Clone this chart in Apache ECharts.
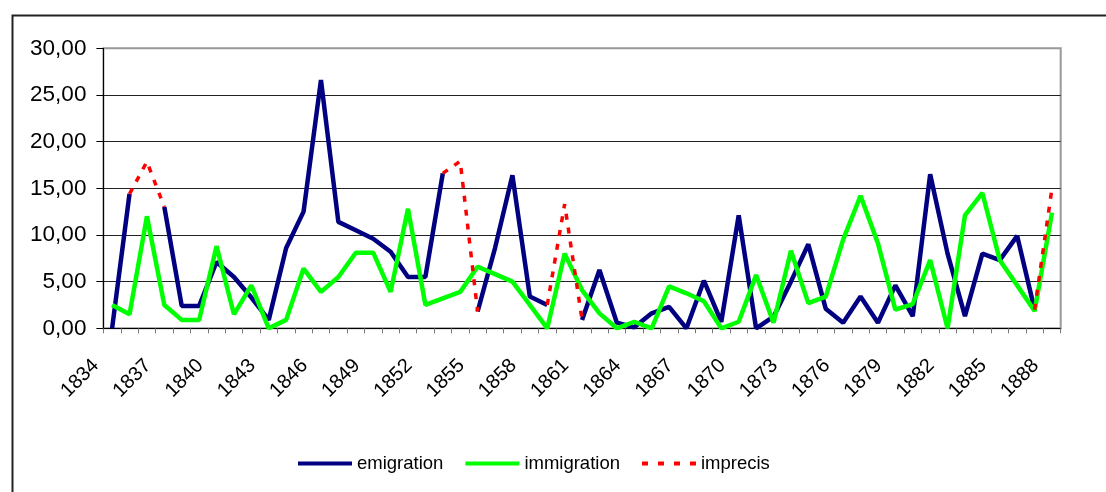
<!DOCTYPE html>
<html>
<head>
<meta charset="utf-8">
<script src="https://cdn.jsdelivr.net/npm/echarts@6/dist/echarts.min.js"></script>
<style>html,body{margin:0;padding:0;background:#fff;}#c{width:1106px;height:492px;}</style>
</head>
<body>
<div id="c"></div>
<script>
var years = [];
for (var y = 1834; y <= 1888; y++) years.push(String(y));

var emigration = [0, 14.4, null, 13.0, 2.4, 2.4, 7.1, 5.5, 3.3, 0.9,
  8.6, 12.5, 26.6, 11.4, 10.5, 9.6, 8.2, 5.5, 5.5, 16.6,
  null, 1.8, 8.6, 16.4, 3.4, 2.5, null, 0.9, 6.25, 0.6,
  0.1, 1.6, 2.3, 0, 5.1, 0.7, 12.1, 0, 1.25, 5.0,
  9.0, 2.1, 0.6, 3.4, 0.6, 4.6, 1.3, 16.5, 8.0, 1.3,
  8.0, 7.3, 9.9, 2.0, null];

var immigration = [2.5, 1.5, 12.0, 2.5, 0.9, 0.9, 8.8, 1.5, 4.6, 0,
  0.9, 6.4, 3.9, 5.5, 8.1, 8.1, 3.9, 12.8, 2.5, 3.2,
  3.9, 6.6, 5.8, 5.0, 2.5, 0, 8.0, 4.1, 1.6, 0,
  0.7, 0, 4.5, 3.75, 2.9, 0, 0.7, 5.7, 0.6, 8.3,
  2.7, 3.4, 9.5, 14.2, 9.1, 2.0, 2.6, 7.3, 0, 12.1,
  14.5, 7.3, 4.6, 1.85, 12.4];

var imprecis = [null, 14.4, 17.85, 13.0, null, null, null, null, null, null,
  null, null, null, null, null, null, null, null, null, 16.6,
  17.9, 1.8, null, null, null, 2.5, 13.3, 0.9, null, null,
  null, null, null, null, null, null, null, null, null, null,
  null, null, null, null, null, null, null, null, null, null,
  null, null, null, 2.0, 15.0];

var seriesNames = ['emigration', 'immigration', 'imprecis'];
var yTicks = [0, 5, 10, 15, 20, 25, 30];

var font = 'Liberation Sans, Arial, sans-serif';
var solidIcon = 'path://M0,0h54v4h-54z';
var dashIcon = 'path://M0,0h6v4h-6zM16,0h6v4h-6zM32,0h6v4h-6zM48,0h6v4h-6z';
var chart = echarts.init(document.getElementById('c'), null, {renderer: 'canvas'});
chart.setOption({
  animation: false,
  backgroundColor: '#fff',
  graphic: [{
    type: 'rect', left: 10, top: 13, z: -10,
    shape: {x: 0, y: 0, width: 1110, height: 500},
    style: {fill: 'none', stroke: '#222', lineWidth: 2}
  }],
  grid: {left: 103.4, right: 45.3, top: 48.3, bottom: 163.7, show: true,
         borderColor: '#999', borderWidth: 2, backgroundColor: 'transparent'},
  legend: {
    data: [
      {name: seriesNames[0], icon: solidIcon},
      {name: seriesNames[1], icon: solidIcon},
      {name: seriesNames[2], icon: dashIcon}
    ],
    left: 298, top: 454, padding: 0, itemWidth: 54, itemHeight: 4, itemGap: 22,
    textStyle: {fontFamily: font, fontSize: 18.5, color: '#000'}
  },
  xAxis: {
    type: 'category', data: years, boundaryGap: true,
    axisLine: {lineStyle: {color: '#000', width: 1}},
    axisTick: {show: true, interval: 0, length: 5, lineStyle: {color: '#777'}},
    axisLabel: {interval: 2, rotate: 45, margin: 18, fontFamily: font, fontSize: 20, color: '#000',
                padding: [12, 23, 0, 0]}
  },
  yAxis: {
    type: 'value', min: yTicks[0], max: yTicks[yTicks.length - 1], interval: 5,
    axisLine: {show: true, lineStyle: {color: '#000', width: 1}},
    axisTick: {show: true, length: 7, lineStyle: {color: '#000'}},
    axisLabel: {margin: 17, fontFamily: font, fontSize: 22.5, color: '#000',
                formatter: function (v) { return v.toFixed(2).replace('.', ','); }},
    splitLine: {show: true, lineStyle: {color: ['#222', '#222', '#222', '#222', '#222', '#222', '#999'], width: 1}}
  },
  series: [
    {name: seriesNames[0], type: 'line', data: emigration, symbol: 'none', showSymbol: false,
     connectNulls: false, lineStyle: {color: '#000080', width: 4.5}, itemStyle: {color: '#000080'}, z: 2},
    {name: seriesNames[1], type: 'line', data: immigration, symbol: 'none', showSymbol: false,
     connectNulls: false, lineStyle: {color: '#00FF00', width: 4.5}, itemStyle: {color: '#00FF00'}, z: 3},
    {name: seriesNames[2], type: 'line', data: imprecis, symbol: 'none', showSymbol: false,
     connectNulls: false, lineStyle: {color: '#FF0000', width: 3.5, type: [6, 8]}, itemStyle: {color: '#FF0000'}, z: 4}
  ]
});
</script>
</body>
</html>
